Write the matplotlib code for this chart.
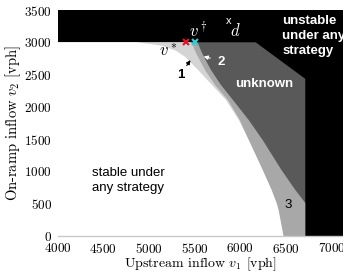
import numpy as np
import matplotlib
matplotlib.use("Agg")
import matplotlib.pyplot as plt

plt.rcParams['font.family'] = ['cmr10', 'DejaVu Serif']
plt.rcParams['mathtext.fontset'] = 'cm'
plt.rcParams['axes.formatter.use_mathtext'] = True

# --- region boundaries (x in vph, y in vph) ---
# white / light grey (stable boundary)
b1_y = [3000, 2975, 2945, 2868, 2775, 2573, 2341, 2108, 1798, 1488, 1023, 713, 512, 403, 0]
b1_x = [4864, 5010, 5147, 5299, 5397, 5538, 5690, 5843, 5984, 6092, 6245, 6343, 6397, 6419, 6473]
# light grey / medium grey
b2_y = [3000, 2945, 2868, 2775, 2573, 2341, 2108, 1798, 1488, 1023, 713, 512, 403, 0]
b2_x = [5462, 5484, 5505, 5538, 5614, 5723, 5864, 5995, 6092, 6245, 6343, 6397, 6419, 6473]
# medium grey / dark grey
b3_y = [3000, 2945, 2868, 2775, 2573, 2341, 2108, 1798, 1488, 1023, 713, 512, 0]
b3_x = [5527, 5549, 5571, 5603, 5679, 5788, 5919, 6092, 6245, 6451, 6603, 6712, 6712]
# dark grey / black
b4_y = [3000, 2434, 0]
b4_x = [6169, 6712, 6712]

v_star = (5404, 3000)
v_dagger = (5505, 3000)

xticks = [4000, 4500, 5000, 5500, 6000, 6500, 7000]
yticks = [0, 500, 1000, 1500, 2000, 2500, 3000, 3500]

fig = plt.figure(figsize=(3.43, 2.75), dpi=100)
ax = fig.add_axes([57.5 / 343, 39 / 275, 1 - 57.5 / 343, 226 / 275])
ax.set_facecolor('black')


def left_region(bx, by, color):
    xs = [4000, 4000] + list(bx) + [4000]
    ys = [0, by[0]] + list(by) + [0]
    ax.fill(xs, ys, color=color, lw=0, zorder=1)


left_region(b4_x, b4_y, '#595959')
left_region(b3_x, b3_y, '#a8a8a8')
left_region(b2_x, b2_y, '#d4d4d4')
left_region(b1_x, b1_y, 'white')

ax.plot(*v_star, marker='x', color='#e8102a', ms=5, mew=1.5, zorder=3)
ax.plot(*v_dagger, marker='x', color='#2ccfd6', ms=5, mew=1.5, zorder=3)

ax.set_xlim(4000, 7125)
ax.set_ylim(0, 3500)
ax.set_xticks(xticks)
ax.set_yticks(yticks)
ax.tick_params(length=0, labelsize=9.5)
ax.tick_params(axis='y', pad=4)
ax.tick_params(axis='x', pad=4)
for s in ['top', 'right', 'left']:
    ax.spines[s].set_visible(False)
ax.spines['bottom'].set_color('#c8c8c8')
ax.spines['bottom'].set_linewidth(1.0)
ax.spines['bottom'].set_zorder(4)

ax.set_xlabel('Upstream inflow $v_1$ [vph]', fontsize=10, labelpad=0)
ax.set_ylabel('On-ramp inflow $v_2$ [vph]', fontsize=10.5, labelpad=1)

sans = 'Liberation Sans'
ax.text(6462, 3100, 'unstable\nunder any\nstrategy', color='white', family=sans,
        fontsize=9.5, fontweight='bold', ha='left', va='center', linespacing=1.3, zorder=5)
ax.text(6266, 2356, 'unknown', color='white', family=sans, fontsize=9.5,
        fontweight='bold', ha='center', va='center', zorder=5)
ax.text(4375, 860, 'stable under\nany strategy', color='black', family=sans,
        fontsize=9.5, ha='left', va='center', linespacing=1.3, zorder=5)
ax.text(6527, 480, '3', color='black', family=sans, fontsize=9.5, ha='center', va='center', zorder=5)
ax.text(5353, 2496, '1', color='black', family=sans, fontsize=9.5, fontweight='bold',
        ha='center', va='center', zorder=5)
ax.text(5788, 2697, '2', color='white', family=sans, fontsize=9.5, fontweight='bold',
        ha='center', va='center', zorder=5)
ax.annotate('', xy=(5473, 2759), xytext=(5397, 2604),
            arrowprops=dict(arrowstyle='-|>', color='black', lw=0.8, mutation_scale=6), zorder=5)
ax.annotate('', xy=(5571, 2790), xytext=(5701, 2744),
            arrowprops=dict(arrowstyle='-|>', color='white', lw=0.8, mutation_scale=6), zorder=5)
ax.text(5212, 2883, '$v^*$', color='black', fontsize=12, ha='center', va='center', zorder=5)
ax.text(5538, 3193, r'$v^\dagger$', color='white', fontsize=12, ha='center', va='center', zorder=5)
ax.text(5875, 3333, 'x', color='white', family=sans, fontsize=8, ha='center', va='center', zorder=5)
ax.text(5951, 3178, '$d$', color='white', fontsize=12, ha='center', va='center', zorder=5)

fig.savefig('out.png', dpi=100)
